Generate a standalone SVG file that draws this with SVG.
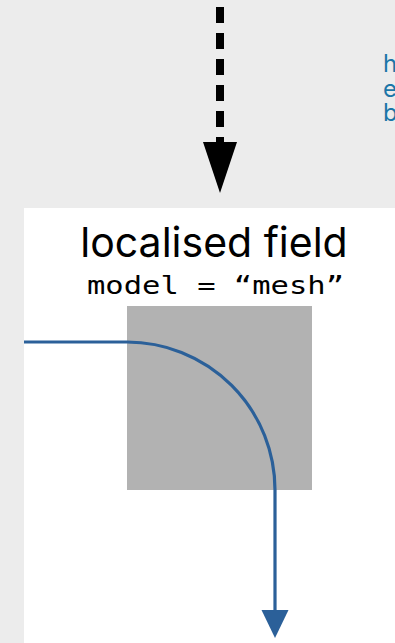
<svg xmlns="http://www.w3.org/2000/svg" width="395" height="643" viewBox="0 0 395 643">
<style>
.bg{fill:#ececec}
.panel{fill:#ffffff}
.title{font-family:Inter,"Noto Sans",sans-serif;font-size:41px;fill:#000}
.mono{font-family:"DejaVu Sans Mono","Liberation Mono",monospace;font-size:25px;fill:#000}
.side{font-family:Inter,"Noto Sans",sans-serif;font-size:24px;fill:#1c76a8}
.dash{stroke:#000;stroke-width:8;stroke-dasharray:16 10;fill:none}
.flow{stroke:#2b6099;stroke-width:3.2;fill:none}
</style>
<rect class="bg" x="0" y="0" width="395" height="643"/>
<g id="side-node">
<text class="side" x="383" y="72">h</text>
<text class="side" x="383" y="96.5">e</text>
<text class="side" x="383" y="121">b</text>
</g>
<g id="localised-field">
<rect class="panel" x="24" y="208" width="371" height="435"/>
<text class="title" x="214" y="257" text-anchor="middle">localised field</text>
<text class="mono" x="87" y="294" textLength="257" lengthAdjust="spacingAndGlyphs">model = “mesh”</text>
</g>
<g id="mesh-cell">
<rect x="127" y="306" width="185" height="184" fill="#b2b2b2"/>
</g>
<g id="connectors">
<line class="dash" x1="220" y1="7" x2="220" y2="143"/>
<polygon points="203,142 237,142 220,193" fill="#000"/>
<path class="flow" d="M24,342 H127 A148,148 0 0 1 275,490 V612"/>
<polygon points="261.5,610 288.5,610 275,638" fill="#2b6099"/>
</g>
</svg>
